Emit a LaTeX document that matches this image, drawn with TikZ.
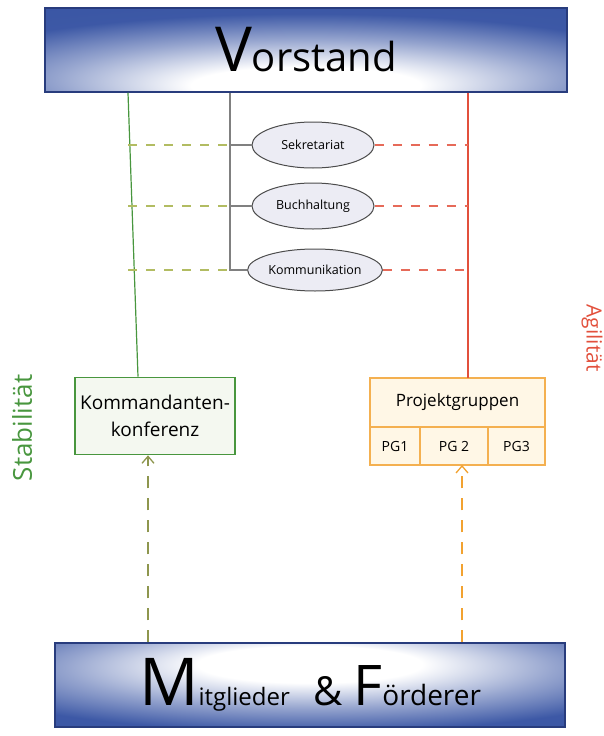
\documentclass[tikz,border=0pt]{standalone}
\usepackage{fontspec}
\setmainfont{Open Sans}
\usetikzlibrary{positioning, arrows.meta, shapes.geometric}

\definecolor{vblau}{RGB}{44,74,158}
\definecolor{vrand}{RGB}{40,60,125}
\definecolor{stabgruen}{RGB}{72,150,62}
\definecolor{kfill}{RGB}{244,248,240}
\definecolor{agilrot}{RGB}{226,80,60}
\definecolor{pgorange}{RGB}{244,176,80}
\definecolor{pgfill}{RGB}{255,247,230}
\definecolor{amtgrau}{RGB}{236,236,244}
\definecolor{linie}{RGB}{128,128,128}
\definecolor{olivstrich}{RGB}{178,188,98}
\definecolor{pfeilorange}{RGB}{242,162,48}

% hell unten (oberes Banner) bzw. hell oben (unteres Banner)
\pgfdeclareradialshading{bannerunten}{\pgfpoint{0bp}{-24bp}}{color(0bp)=(white); color(11bp)=(white); color(24bp)=(vblau!50); color(36bp)=(vblau!92); color(90bp)=(vblau)}
\pgfdeclareradialshading{banneroben}{\pgfpoint{0bp}{14bp}}{color(0bp)=(white); color(11bp)=(white); color(24bp)=(vblau!50); color(36bp)=(vblau!92); color(90bp)=(vblau)}

\tikzset{
  banner/.style={draw=vrand, line width=1.5, shade, inner sep=0, minimum height=84},
  amt/.style={ellipse, draw=black!70, fill=amtgrau, line width=1, inner sep=1, minimum width=122, minimum height=46, font=\fontsize{12.5}{12.5}\selectfont},
  kbox/.style={draw=stabgruen, fill=kfill, line width=1.6, align=center, minimum width=160, minimum height=77, font=\fontsize{19}{27}\selectfont},
  pbox/.style={draw=pgorange, fill=pgfill, line width=1.6, outer sep=0, inner sep=1, font=\fontsize{17}{17}\selectfont},
  zelle/.style={pbox, minimum height=38, font=\fontsize{14}{14}\selectfont},
  ast/.style={linie, line width=1.4},
  strich links/.style={olivstrich, line width=1.2, dash pattern=on 9 off 9},
  strich rechts/.style={agilrot!85, line width=1.2, dash pattern=on 9 off 9},
}

\begin{document}
\begin{tikzpicture}[x=1pt, y=-1pt]

  \useasboundingbox (0,0) rectangle (603,736);

  % Banner oben und unten
  \node[banner, shading=bannerunten, minimum width=522] (vorstand) at (306,50)
    {\fontsize{62}{62}\selectfont V\fontsize{40}{40}\selectfont orstand};
  \node[banner, shading=banneroben, minimum width=510] (mitglieder) at (310,685)
    {\fontsize{66}{66}\selectfont M\fontsize{24}{24}\selectfont itglieder\quad
     \fontsize{40}{40}\selectfont\&\ \fontsize{56}{56}\selectfont F\fontsize{28}{28}\selectfont örderer};

  % Stabsstellen
  \node[amt] (sek) at (313,145) {Sekretariat};
  \node[amt] (buch) at (313,206) {Buchhaltung};
  \node[amt, minimum height=42] (kom) at (315,270) {Kommunikation};

  % Gremien
  \node[kbox] (kdk) at (155,416) {Kommandanten-\\konferenz};
  \node[pbox, minimum width=175, minimum height=49] (pg) at (457.5,402.5) {Projektgruppen};
  \node[zelle, minimum width=50, anchor=north west] (pg1) at (pg.south west) {PG1};
  \node[zelle, minimum width=68, right=0pt of pg1] (pg2) {PG 2};
  \node[zelle, minimum width=57, right=0pt of pg2] (pg3) {PG3};

  % Linien vom Vorstand
  \coordinate (gruen) at ([xshift=-178]vorstand.south);
  \coordinate (stamm) at ([xshift=-76]vorstand.south);
  \coordinate (rot) at ([xshift=162]vorstand.south);

  \draw[stabgruen, line width=1.2] (gruen) -- ([xshift=-17]kdk.north);
  \draw[agilrot, line width=1.2] (rot) -- (rot |- pg.north);
  \draw[ast] (stamm) |- (kom.west);
  \foreach \a in {sek,buch} {\draw[ast] (stamm |- \a.west) -- (\a.west);}

  \foreach \a in {sek,buch,kom} {
    \draw[strich links] (gruen |- \a.west) -- (stamm |- \a.west);
    \draw[strich rechts] (\a.east) -- (rot |- \a.east);
  }

  % Pfeile von unten
  \coordinate (lp) at ([xshift=-162]mitglieder.north);
  \coordinate (rp) at ([xshift=152]mitglieder.north);
  \draw[olivstrich!80!black, line width=1.3, dash pattern=on 12 off 10,
        -{Straight Barb[length=7, width=12]}] (lp) -- (lp |- kdk.south);
  \draw[pfeilorange, line width=1.3, dash pattern=on 12 off 10,
        -{Straight Barb[length=7, width=12]}] (rp) -- (rp |- pg2.south);

  % Seitenbeschriftung
  \node[rotate=90, text=stabgruen, font=\fontsize{26}{26}\selectfont] (stab) at (22,428) {Stabilität};
  \node[rotate=-90, text=agilrot, font=\fontsize{21}{21}\selectfont] (agil) at (592,338) {Agilität};

\end{tikzpicture}
\end{document}
